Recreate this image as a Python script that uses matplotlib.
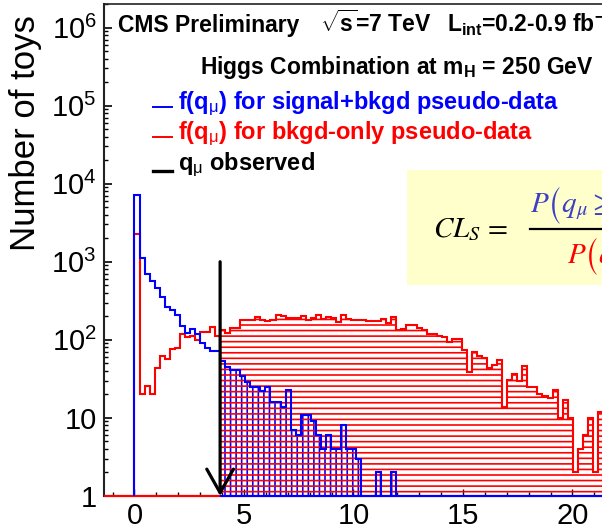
import numpy as np
import matplotlib
matplotlib.use('Agg')
import matplotlib.pyplot as plt
from matplotlib.lines import Line2D
from matplotlib.patches import Rectangle
from matplotlib.ticker import (MultipleLocator, FixedLocator, FixedFormatter,
                               NullFormatter, LogLocator)

plt.rcParams['font.family'] = ['Liberation Sans', 'DejaVu Sans']
plt.rcParams['mathtext.fontset'] = 'custom'
plt.rcParams['mathtext.rm'] = 'Liberation Sans'
plt.rcParams['mathtext.it'] = 'Liberation Sans:italic'
plt.rcParams['mathtext.bf'] = 'Liberation Sans:bold'
plt.rcParams['hatch.linewidth'] = 1.2

# ---------------- data ----------------
bin_width = 0.23
q_obs_bin = 17          # observed q_mu falls on this bin edge
q_obs = q_obs_bin * bin_width

# f(q_mu) for signal+bkgd pseudo-data (toys per bin)
sb_counts = [7200, 1120, 700, 575, 460, 350, 262, 242, 209, 151,
             124, 138, 119, 91, 78, 71, 73, 54, 45, 41,
             41, 34, 29, 25, 25, 22, 25, 16, 16, 14,
             23, 7, 6, 11, 11, 9, 6, 4, 6, 4,
             4, 8, 4, 4, 3, 0, 0, 0, 2, 0,
             0, 2, 0, 0, 0, 0, 0, 0, 0, 0,
             0, 0, 0, 0, 0, 0, 0, 0, 0, 0,
             0, 0, 0, 0, 0, 0, 0, 0, 0, 0,
             0, 0, 0, 0, 0, 0, 0, 0, 0, 0,
             0, 0, 0]

# f(q_mu) for bkgd-only pseudo-data (toys per bin)
b_counts = [2300, 20, 26, 20, 43, 62, 57, 76, 78, 119,
            108, 111, 100, 126, 126, 146, 112, 132, 122, 141,
            141, 177, 177, 177, 195, 177, 172, 180, 209, 203,
            189, 189, 189, 203, 177, 189, 209, 184, 195, 189,
            167, 209, 184, 180, 180, 177, 172, 172, 172, 184,
            164, 195, 135, 137, 156, 156, 141, 134, 118, 118,
            113, 110, 95, 102, 102, 75, 39, 70, 62, 58,
            43, 48, 55, 14, 31, 37, 30, 46, 25, 25,
            20, 19, 18, 23, 10, 17, 10, 2, 4, 6,
            10, 2, 12]

y_ticks = [1, 10, 1e2, 1e3, 1e4, 1e5, 1e6]
y_tick_labels = ['1', '10', r'$10^{2}$', r'$10^{3}$', r'$10^{4}$',
                 r'$10^{5}$', r'$10^{6}$']

# ---------------- figure ----------------
W, H = 602, 532
fig = plt.figure(figsize=(W / 100, H / 100), dpi=100)


def fx(px):
    return px / W


def fy(py):
    return 1 - py / H


xmin, xmax = -1.415, 24.9
px_per_unit = 21.9
ax = fig.add_axes([fx(103.5), 36 / H, (xmax - xmin) * px_per_unit / W, 492 / H])
ax.set_xlim(xmin, xmax)
ax.set_yscale('log')
ax.set_ylim(1, 2e6)

sb = np.array(sb_counts, dtype=float)
b = np.array(b_counts, dtype=float)
edges = np.arange(len(sb) + 1) * bin_width

# hatched tails beyond the observed value
ax.stairs(np.maximum(sb[q_obs_bin:], 1), edges[q_obs_bin:], baseline=1,
          fill=True, facecolor='none', edgecolor='blue', hatch='|||',
          linewidth=0, zorder=2)
ax.stairs(np.maximum(b[q_obs_bin:], 1), edges[q_obs_bin:], baseline=1,
          fill=True, facecolor='none', edgecolor='red', hatch='---',
          linewidth=0, zorder=2.1)

# outlines
ax.stairs(b, edges, baseline=0, color='red', linewidth=1.5, zorder=3)
ax.stairs(sb, edges, baseline=0, color='blue', linewidth=1.5, zorder=3.1)

# empty-bin floor lines
ax.hlines(1, xmin, q_obs, color='red', linewidth=1.6, clip_on=False, zorder=3)
ax.hlines(1, q_obs, xmax, color='blue', linewidth=1.6, clip_on=False, zorder=3)

# observed q_mu arrow
ax.annotate('', xy=(q_obs, 1), xytext=(q_obs, 1000),
            arrowprops=dict(arrowstyle='->,head_length=0.85,head_width=0.48',
                            mutation_scale=20, lw=2.3, color='black',
                            shrinkA=0, shrinkB=0),
            annotation_clip=False, zorder=4)

# axes styling
for s in ['right', 'bottom']:
    ax.spines[s].set_visible(False)
ax.spines['left'].set_linewidth(1.5)
ax.spines['left'].set_color('#222222')
ax.spines['top'].set_linewidth(1.2)
ax.spines['top'].set_color('#222222')

ax.xaxis.set_major_locator(MultipleLocator(5))
ax.xaxis.set_minor_locator(MultipleLocator(1))
ax.tick_params(axis='x', which='major', direction='in', length=5, width=1,
               labelsize=21, pad=4, top=False)
ax.tick_params(axis='x', which='minor', direction='in', length=3, width=1,
               top=False)

ax.yaxis.set_major_locator(FixedLocator(y_ticks))
ax.yaxis.set_major_formatter(FixedFormatter(y_tick_labels))
ax.yaxis.set_minor_locator(LogLocator(base=10, subs=np.arange(2, 10)))
ax.yaxis.set_minor_formatter(NullFormatter())
ax.tick_params(axis='y', which='major', direction='in', length=6, width=1.2,
               labelsize=21, pad=5, right=False)
ax.tick_params(axis='y', which='minor', direction='in', length=3, width=1,
               right=False)

fig.text(fx(26), fy(15), 'Number of toys', rotation=90, ha='center', va='top',
         fontsize=25)

# header
hdr = dict(fontsize=16.5, fontweight='bold', ha='left', va='baseline')
fig.text(fx(118), fy(32), 'CMS Preliminary', **hdr)
fig.text(fx(320), fy(32), r'$\sqrt{\mathbf{s}}$=7 TeV', **hdr)
fig.text(fx(447), fy(32), r'L$_{\mathbf{int}}$=0.2-0.9 fb$^{\mathbf{-1}}$', **hdr)
fig.text(fx(200), fy(74), r'Higgs Combination at m$_{\mathbf{H}}$ = 250 GeV', **hdr)

# legend
leg = dict(fontsize=17, fontweight='bold', ha='left', va='baseline')
fig.text(fx(178), fy(109), r'f(q$_{\mathrm{\mu}}$) for signal+bkgd pseudo-data',
         color='blue', **leg)
fig.text(fx(178), fy(139), r'f(q$_{\mathrm{\mu}}$) for bkgd-only pseudo-data',
         color='red', **leg)
fig.text(fx(178), fy(170), r'q$_{\mathrm{\mu}}$ observed', color='black', **leg)
fig.add_artist(Line2D([fx(153), fx(172)], [fy(107)] * 2, transform=fig.transFigure,
                      color='blue', lw=1.4))
fig.add_artist(Line2D([fx(153), fx(172)], [fy(137)] * 2, transform=fig.transFigure,
                      color='red', lw=1.4))
fig.add_artist(Line2D([fx(153), fx(172)], [fy(171)] * 2, transform=fig.transFigure,
                      color='black', lw=2.4))

# CLs formula box
fig.add_artist(Rectangle((fx(407), fy(285)), (720 - 407) / W, (285 - 170) / H,
                         transform=fig.transFigure, facecolor='#FFFFCC',
                         edgecolor='none', zorder=5))
fig.text(fx(433), fy(237), r'$CL_S\,=$', math_fontfamily='stix', fontsize=21,
         color='black', ha='left', va='baseline', zorder=6)
fig.text(fx(530), fy(212), r'$P\left(q_\mu \geq q_\mu^{obs}\,|\,s+b\right)$',
         math_fontfamily='stix', fontsize=21, color='#3F3FC6', ha='left',
         va='baseline', zorder=6)
fig.text(fx(567), fy(263), r'$P\left(q_\mu \geq q_\mu^{obs}\,|\,b\right)$',
         math_fontfamily='stix', fontsize=21, color='red', ha='left',
         va='baseline', zorder=6)
fig.add_artist(Line2D([fx(530), fx(720)], [fy(229)] * 2, transform=fig.transFigure,
                      color='black', lw=1.6, zorder=6))

fig.savefig('out.png', dpi=100)
